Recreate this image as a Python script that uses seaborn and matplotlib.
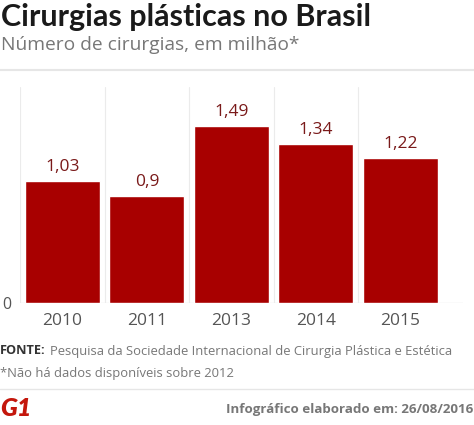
import pandas as pd
import seaborn as sns
import matplotlib.pyplot as plt

# dados
anos = ["2010", "2011", "2013", "2014", "2015"]
cirurgias = [1.03, 0.9, 1.49, 1.34, 1.22]
rotulos = ["1,03", "0,9", "1,49", "1,34", "1,22"]

df = pd.DataFrame({"ano": anos, "cirurgias": cirurgias})

sns.set_style("white")
plt.rcParams["font.family"] = ["Open Sans", "DejaVu Sans"]

fig = plt.figure(figsize=(4.74, 4.25), dpi=100)
W, H = 474, 425
ax = fig.add_axes([20 / W, 1 - 303 / H, (463 - 20) / W, (303 - 87) / H])

sns.barplot(data=df, x="ano", y="cirurgias", color="#a80000", saturation=1,
            width=0.885, ax=ax)

for i, r in enumerate(rotulos):
    ax.text(i, cirurgias[i] + 0.05, r, ha="center", va="bottom",
            fontsize=12.5, color="#7a1a1a")

ax.set_xlim(-0.5, 4.74)
ax.set_ylim(0, 1.82)
ax.set_yticks([0])
ax.set_yticklabels(["0"], fontsize=11.5, color="#555555")
ax.tick_params(axis="y", length=0, pad=6)
ax.tick_params(axis="x", length=0, labelsize=12.5, labelcolor="#555555", pad=7)
ax.set_xlabel("")
ax.set_ylabel("")
for s in ax.spines.values():
    s.set_visible(False)
ax.axhline(0, color="#e6e6e6", lw=1, zorder=0)
for xb in [-0.5, 0.5, 1.5, 2.5, 3.5]:
    ax.axvline(xb, color="#ebebeb", lw=0.8, zorder=0)

fig.text(1 / W, 1 - 17 / H, "Cirurgias plásticas no Brasil", fontsize=22,
         fontweight="bold", color="#1a1a1a", va="center", family=["Lato", "DejaVu Sans"])
fig.text(1 / W, 1 - 45 / H, "Número de cirurgias, em milhão*", fontsize=13.8,
         color="#777777", va="center")
fig.add_artist(plt.Line2D([0, 1], [1 - 70 / H] * 2, color="#e6e6e6", lw=1.5))

fig.text(0, 1 - 351 / H, "FONTE:", fontsize=9.2, fontweight="bold",
         color="#333333", va="center")
fig.text(50 / W, 1 - 351 / H,
         "Pesquisa da Sociedade Internacional de Cirurgia Plástica e Estética",
         fontsize=9.4, color="#777777", va="center")
fig.text(0, 1 - 373 / H, "*Não há dados disponíveis sobre 2012", fontsize=9.4,
         color="#777777", va="center")
fig.add_artist(plt.Line2D([0, 1], [1 - 389 / H] * 2, color="#e6e6e6", lw=1))

fig.text(0, 1 - 409 / H, "G1", fontsize=18, fontweight="heavy", color="#c4170c",
         va="center", style="italic", family=["Lato", "DejaVu Sans"])
fig.text(473 / W, 1 - 410 / H, "Infográfico elaborado em: 26/08/2016",
         fontsize=9.6, fontweight="bold", color="#777777", va="center", ha="right")

fig.savefig("out.png", dpi=100)
